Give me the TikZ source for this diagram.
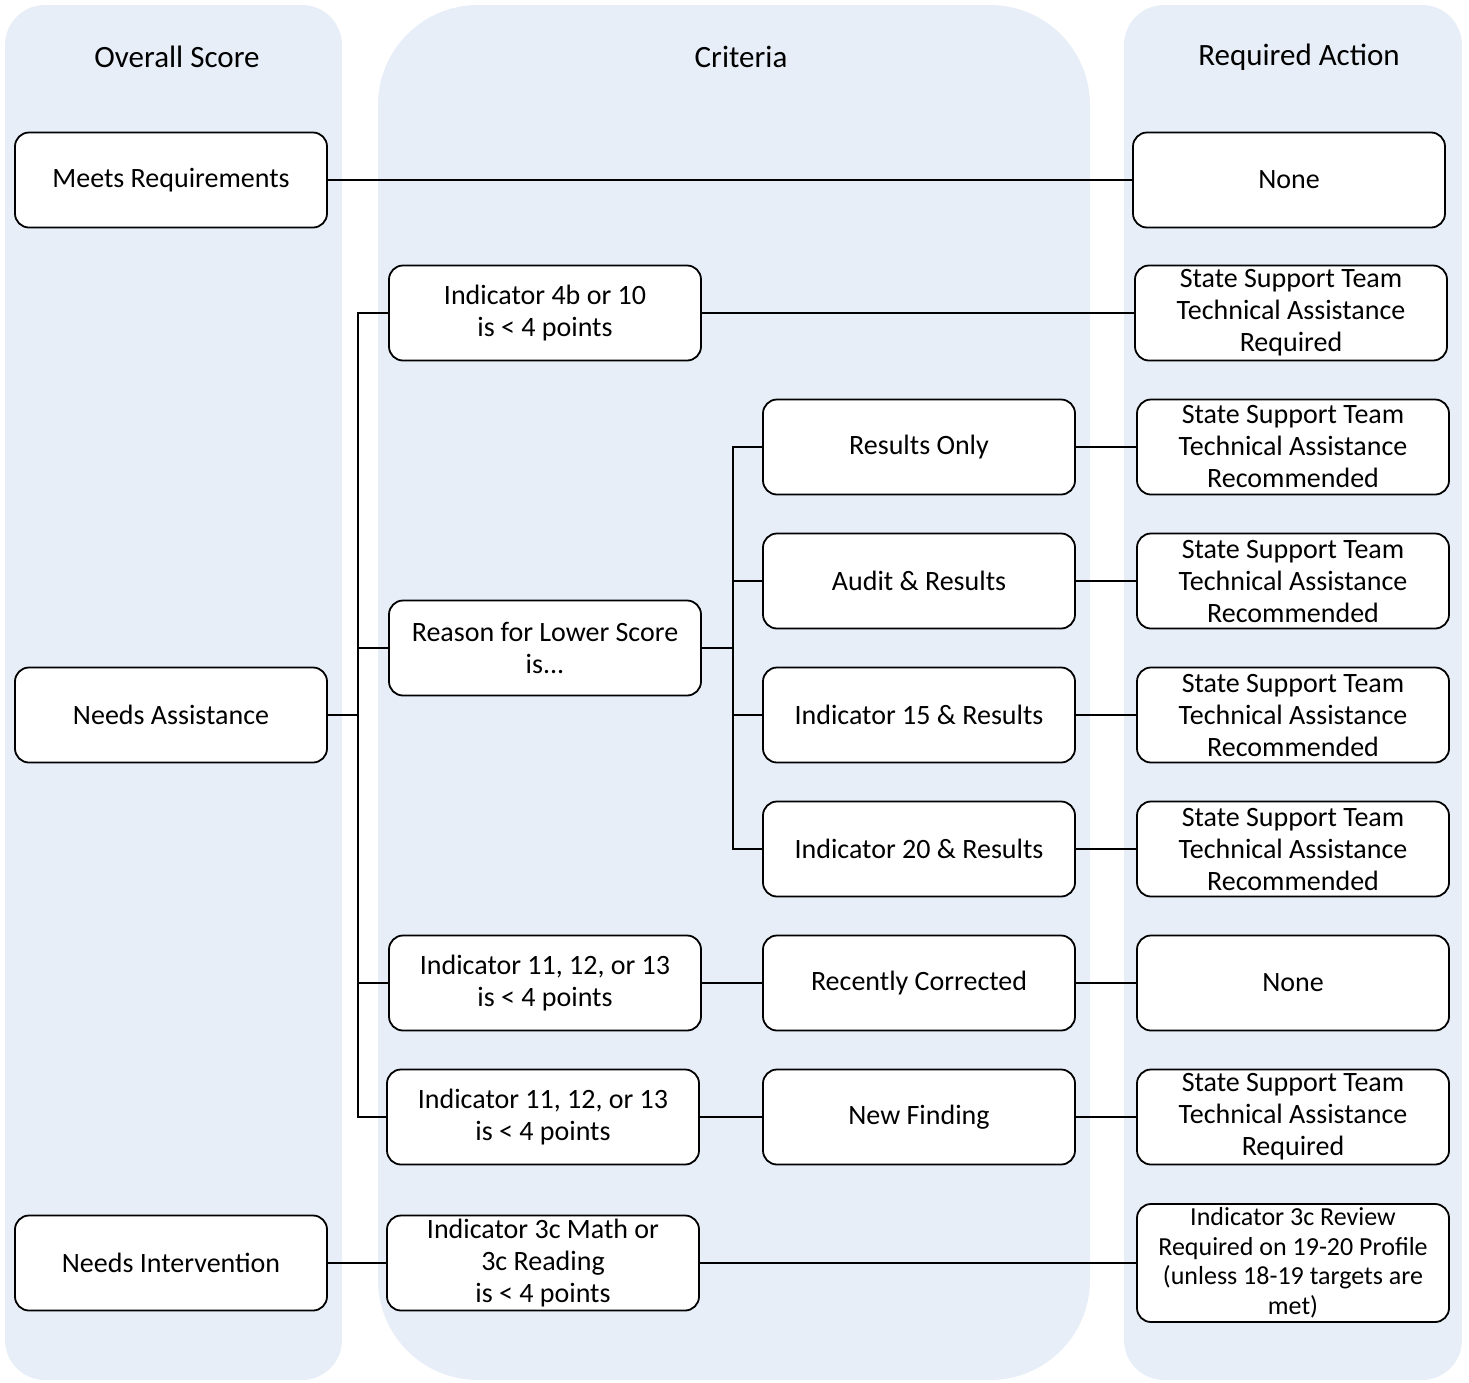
\documentclass[tikz,border=0pt]{standalone}
\usepackage{fontspec}
\setmainfont{Carlito}
\usetikzlibrary{positioning}
\definecolor{laneblue}{HTML}{E7EEF8}

\begin{document}
\begin{tikzpicture}[x=1pt,y=-1pt,
	box/.style={draw,fill=white,line width=1.8pt,rounded corners=14pt,minimum width=312pt,minimum height=95pt,align=center,inner sep=2pt,font=\fontsize{28}{32}\selectfont},
	head/.style={font=\fontsize{31}{36}\selectfont},
	link/.style={line width=1.8pt}]
	\useasboundingbox (0,0) rectangle (1469,1382);
	\def\bus{30}	%offset of the vertical bus lines
	%background lanes
	\fill[laneblue,rounded corners=40pt] (5,5) rectangle (342,1380);
	\fill[laneblue,rounded corners=100pt] (378,5) rectangle (1090,1380);
	\fill[laneblue,rounded corners=40pt] (1124,5) rectangle (1462,1380);
	
	\node[head] (hscore) at (177,57) {Overall Score};
	\node[head] (hcrit) at (741,57) {Criteria};
	\node[head] (hact) at (1299,57) {Required Action};
	
	%overall score
	\node[box] (meets) at (171,180) {Meets Requirements};
	\node[box] (assist) at (171,715) {Needs Assistance};
	\node[box] (interv) at (171,1263) {Needs Intervention};
	
	%criteria
	\node[box] (ind4b) at (545,313) {Indicator 4b or 10\\is < 4 points};
	\node[box] (reason) at (545,648) {Reason for Lower Score\\is...};
	\node[box] (ind11a) at (545,983) {Indicator 11, 12, or 13\\is < 4 points};
	\node[box] (ind11b) at (543,1117) {Indicator 11, 12, or 13\\is < 4 points};
	\node[box] (ind3c) at (543,1263) {Indicator 3c Math or\\3c Reading\\is < 4 points};
	\node[box] (corrected) at (919,983) {Recently Corrected};
	\node[box] (newfind) at (919,1117) {New Finding};
	
	%required action
	\node[box] (noneA) at (1289,180) {None};
	\node[box] (sstreqA) at (1291,313) {State Support Team\\Technical Assistance\\Required};
	\node[box] (noneB) at (1293,983) {None};
	\node[box] (sstreqB) at (1293,1117) {State Support Team\\Technical Assistance\\Required};
	\node[box,minimum height=118pt,font=\fontsize{26}{29.5}\selectfont] (review) at (1293,1263) {Indicator 3c Review\\Required on 19-20 Profile\\(unless 18-19 targets are\\met)};
	
	\foreach \name/\txt/\y in {results/Results Only/447, audit/Audit \& Results/581, ind15/Indicator 15 \& Results/715, ind20/Indicator 20 \& Results/849}{
		\node[box] (\name) at (919,\y) {\txt};
		\node[box] (\name-act) at (1293,\y) {State Support Team\\Technical Assistance\\Recommended};
		\draw[link] (reason.east) -- ++(\bus+1,0) |- (\name.west);	%reason--results
		\draw[link] (\name.east) -- (\name-act.west);
	}
	
	\draw[link] (meets.east) -- (noneA.west);
	\foreach \c in {ind4b,reason,ind11a,ind11b}{
		\draw[link] (assist.east) -- ++(\bus,0) |- (\c.west);	%needs assistance--criteria
	}
	\draw[link] (ind4b.east) -- (sstreqA.west);
	\draw[link] (ind11a.east) -- (corrected.west);
	\draw[link] (corrected.east) -- (noneB.west);
	\draw[link] (ind11b.east) -- (newfind.west);
	\draw[link] (newfind.east) -- (sstreqB.west);
	\draw[link] (interv.east) -- (ind3c.west);
	\draw[link] (ind3c.east) -- (review.west);
\end{tikzpicture}
\end{document}
